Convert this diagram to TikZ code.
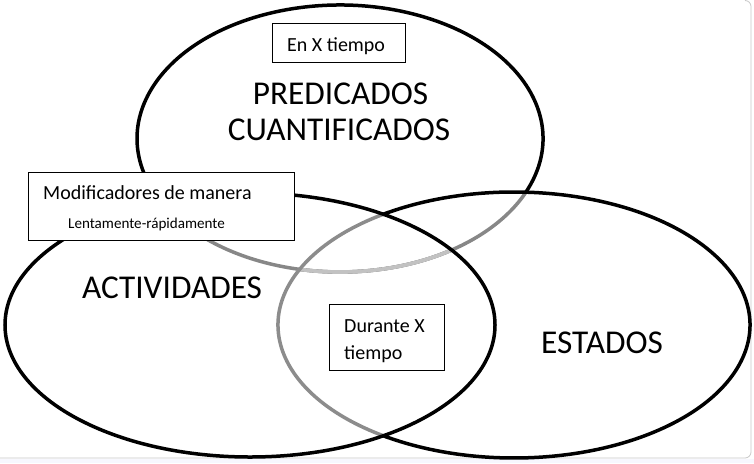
\documentclass[tikz,border=0pt]{standalone}
\usepackage{fontspec}
\setmainfont{Carlito}
\begin{document}
\begin{tikzpicture}[x=1pt,y=-1pt,
  ring/.style={line width=3.5pt,draw=black},
  greyring/.style={line width=3.5pt},
  labelbox/.style={draw=black,line width=0.8pt,fill=white},
  big/.style={font=\fontsize{33.3}{36}\selectfont,inner sep=0pt,anchor=base west},
  mid/.style={font=\fontsize{20}{24}\selectfont,inner sep=0pt,anchor=base west},
  small/.style={font=\fontsize{15.1}{18}\selectfont,inner sep=0pt,anchor=base west}]
\useasboundingbox (0,0) rectangle (754,463);
\fill[white] (0,0) rectangle (754,463);
% window frame
\fill[black!10!blue!3!white] (0,459) rectangle (754,463);
\draw[black!22,line width=0.8pt] (745,0.5) arc[start angle=-90,end angle=0,x radius=6,y radius=6] -- (751,452)
  arc[start angle=0,end angle=90,x radius=6,y radius=6] -- (0,458);
% top ellipse: grey parts inside the other two ellipses
\begin{scope}
  \clip (514,325) ellipse [x radius=236, y radius=133];
  \draw[greyring,draw=black!47] (340,138.5) ellipse [x radius=203, y radius=133.5];
\end{scope}
\begin{scope}
  \clip (250,325) ellipse [x radius=245, y radius=132];
  \draw[greyring,draw=black!47] (340,138.5) ellipse [x radius=203, y radius=133.5];
\end{scope}
\begin{scope}
  \clip (250,325) ellipse [x radius=245, y radius=132];
  \clip (514,325) ellipse [x radius=236, y radius=133];
  \draw[greyring,draw=black!24,line width=3.7pt] (340,138.5) ellipse [x radius=203, y radius=133.5];
\end{scope}
% top ellipse: black outer part
\draw[ring,shift={(340,138.5)}] (24:203 and 133.5) arc[start angle=24, end angle=-210, x radius=203, y radius=133.5];
% right ellipse (ESTADOS): grey inside left ellipse, black elsewhere
\draw[greyring,draw=black!45,shift={(514,325)}] (122:236 and 133) arc[start angle=122, end angle=238, x radius=236, y radius=133];
\draw[ring,shift={(514,325)}] (-123.5:236 and 133) arc[start angle=-123.5, end angle=123.5, x radius=236, y radius=133];
% left ellipse (ACTIVIDADES)
\draw[ring] (250,325) ellipse [x radius=245, y radius=132];
% boxes
\node[labelbox,minimum width=133pt,minimum height=39pt,inner sep=0pt,anchor=north west] (bx1) at (272,23) {};
\node[labelbox,minimum width=266pt,minimum height=68pt,inner sep=0pt,anchor=north west] (bx2) at (28,172) {};
\node[labelbox,minimum width=115pt,minimum height=66pt,inner sep=0pt,anchor=north west] (bx3) at (329,304) {};
% texts
\node[mid] (t1) at (287,51) {En X tiempo};
\node[big,anchor=base] (t2) at (340.5,104) {PREDICADOS};
\node[big,anchor=base] (t3) at (339,140) {CUANTIFICADOS};
\node[mid] (t4) at (43,199) {Modificadores de manera};
\node[small] (t5) at (68,228) {Lentamente-rápidamente};
\node[big] (t6) at (82,298) {ACTIVIDADES};
\node[big] (t7) at (541,353) {ESTADOS};
\node[mid] (t8) at (344,332) {Durante X};
\node[mid] (t9) at (344,359) {tiempo};
\end{tikzpicture}
\end{document}
